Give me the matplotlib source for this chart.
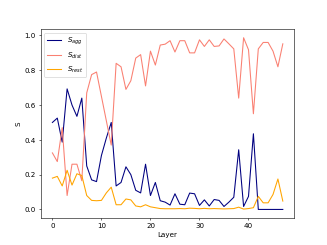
import matplotlib
matplotlib.use("Agg")
import matplotlib.pyplot as plt
import numpy as np

layers = list(range(48))
s_agg = [0.50, 0.525, 0.387, 0.693, 0.60, 0.535, 0.64, 0.25, 0.17, 0.16,
         0.31, 0.41, 0.50, 0.135, 0.155, 0.245, 0.20, 0.11, 0.095, 0.26,
         0.08, 0.155, 0.05, 0.042, 0.025, 0.09, 0.03, 0.027, 0.094, 0.09,
         0.023, 0.055, 0.02, 0.057, 0.052, 0.017, 0.042, 0.07, 0.343, 0.017,
         0.075, 0.435, 0.0, 0.0, 0.0, 0.0, 0.0, 0.0]
s_dist = [0.325, 0.275, 0.47, 0.08, 0.26, 0.26, 0.165, 0.67, 0.775, 0.79,
          0.65, 0.51, 0.37, 0.84, 0.82, 0.69, 0.74, 0.87, 0.89, 0.71,
          0.91, 0.83, 0.945, 0.95, 0.97, 0.905, 0.97, 0.97, 0.90, 0.90,
          0.975, 0.937, 0.975, 0.937, 0.94, 0.98, 0.952, 0.923, 0.64, 0.987,
          0.918, 0.55, 0.923, 0.96, 0.96, 0.91, 0.82, 0.952]
s_rest = [0.18, 0.19, 0.135, 0.225, 0.14, 0.205, 0.195, 0.08, 0.052, 0.05,
          0.052, 0.095, 0.128, 0.027, 0.027, 0.06, 0.055, 0.02, 0.015, 0.027,
          0.015, 0.01, 0.005, 0.004, 0.004, 0.004, 0.005, 0.004, 0.007, 0.006,
          0.004, 0.006, 0.004, 0.005, 0.004, 0.003, 0.004, 0.005, 0.013, 0.002,
          0.005, 0.01, 0.075, 0.038, 0.038, 0.086, 0.175, 0.048]

fig, ax = plt.subplots(figsize=(6.4, 4.8), dpi=51.1)
ax.plot(layers, s_agg, color="navy", label=r"$S_{agg}$")
ax.plot(layers, s_dist, color="salmon", label=r"$S_{dist}$")
ax.plot(layers, s_rest, color="orange", label=r"$S_{rest}$")
ax.set_xlabel("Layer")
ax.set_ylabel("S")
ax.legend(loc="upper left")
fig.savefig("out.png", dpi=51.1)
